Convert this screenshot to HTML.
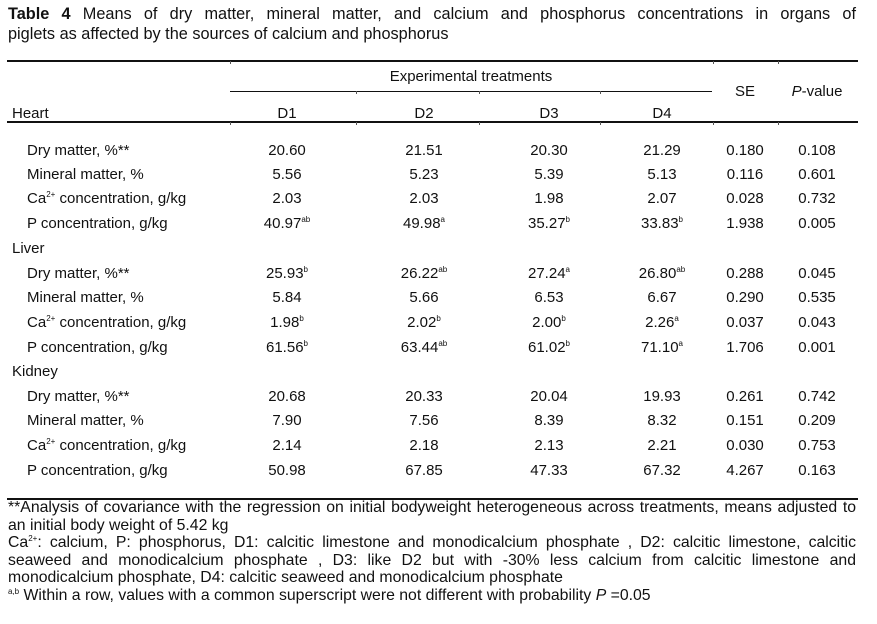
<!DOCTYPE html>
<html><head><meta charset="utf-8"><style>
body{margin:0;width:877px;height:624px;background:#fff;font-family:"Liberation Sans",Arial,sans-serif;color:#111;position:relative;overflow:hidden}
.a{position:absolute;white-space:nowrap}
.t{font-size:16.3px;left:8px;width:848px;text-align:justify;text-align-last:justify}
.r{position:absolute;height:1.5px;background:#111}
.k{position:absolute;width:1px;height:3px;background:#555}
.c{position:absolute;font-size:15px;transform:translateX(-50%);white-space:nowrap}
.l{position:absolute;font-size:15px;white-space:nowrap}
sup{font-size:8px;vertical-align:6px;line-height:0}
.fn{position:absolute;left:8px;width:848px;font-size:15.8px;white-space:nowrap;text-align:justify;text-align-last:justify}
.nj{text-align-last:left}
</style></head><body>
<div class="a t" style="top:5px"><b>Table 4</b> Means of dry matter, mineral matter, and calcium and phosphorus concentrations in organs of</div>
<div class="a t" style="top:25px;text-align-last:left">piglets as affected by the sources of calcium and phosphorus</div>
<div class="r" style="left:7px;width:851px;top:60px"></div>
<div class="c" style="left:471px;top:68px">Experimental treatments</div>
<div class="r" style="left:230px;width:482px;top:91px;height:1px"></div>
<div class="c" style="left:745px;top:83px">SE</div>
<div class="c" style="left:817px;top:83px"><i>P</i>-value</div>
<div class="r" style="left:7px;width:851px;top:121px"></div>
<div class="r" style="left:7px;width:851px;top:498px"></div>
<div class="k" style="left:230px;top:61px"></div><div class="k" style="left:713px;top:61px"></div><div class="k" style="left:778px;top:61px"></div>
<div class="k" style="left:356px;top:91px"></div><div class="k" style="left:479px;top:91px"></div><div class="k" style="left:600px;top:91px"></div>
<div class="k" style="left:230px;top:122px"></div><div class="k" style="left:356px;top:122px"></div><div class="k" style="left:479px;top:122px"></div><div class="k" style="left:600px;top:122px"></div><div class="k" style="left:713px;top:122px"></div><div class="k" style="left:778px;top:122px"></div>
<div id="tb"></div>
<div class="fn" style="top:499px">**Analysis of covariance with the regression on initial bodyweight heterogeneous across treatments, means adjusted to</div>
<div class="fn nj" style="top:516.5px">an initial body weight of 5.42 kg</div>
<div class="fn" style="top:534px">Ca<sup>2+</sup>: calcium, P: phosphorus, D1: calcitic limestone and monodicalcium phosphate , D2: calcitic limestone, calcitic</div>
<div class="fn" style="top:551.5px">seaweed and monodicalcium phosphate , D3: like D2 but with -30% less calcium from calcitic limestone and</div>
<div class="fn nj" style="top:569px">monodicalcium phosphate, D4: calcitic seaweed and monodicalcium phosphate</div>
<div class="fn nj" style="top:586.5px"><sup>a,b</sup> Within a row, values with a common superscript were not different with probability <i>P</i> =0.05</div>
<script>
const headers=["D1","D2","D3","D4"];
const rowLabels=["Dry matter, %**","Mineral matter, %","Ca<sup>2+</sup> concentration, g/kg","P concentration, g/kg"];
const heart=[["20.60","21.51","20.30","21.29","0.180","0.108"],["5.56","5.23","5.39","5.13","0.116","0.601"],["2.03","2.03","1.98","2.07","0.028","0.732"],["40.97<sup>ab</sup>","49.98<sup>a</sup>","35.27<sup>b</sup>","33.83<sup>b</sup>","1.938","0.005"]];
const liver=[["25.93<sup>b</sup>","26.22<sup>ab</sup>","27.24<sup>a</sup>","26.80<sup>ab</sup>","0.288","0.045"],["5.84","5.66","6.53","6.67","0.290","0.535"],["1.98<sup>b</sup>","2.02<sup>b</sup>","2.00<sup>b</sup>","2.26<sup>a</sup>","0.037","0.043"],["61.56<sup>b</sup>","63.44<sup>ab</sup>","61.02<sup>b</sup>","71.10<sup>a</sup>","1.706","0.001"]];
const kidney=[["20.68","20.33","20.04","19.93","0.261","0.742"],["7.90","7.56","8.39","8.32","0.151","0.209"],["2.14","2.18","2.13","2.21","0.030","0.753"],["50.98","67.85","47.33","67.32","4.267","0.163"]];
const organs=["Heart","Liver","Kidney"];
const cols=[287,424,549,662,745,817];
const tb=document.getElementById('tb');
function add(cls,x,y,html,name){const d=document.createElement('div');d.className=cls;d.style.left=x+'px';d.style.top=y+'px';d.innerHTML=html;


tb.appendChild(d);}
headers.forEach((h,i)=>add('c',cols[i],105,h,'header-'+h.toLowerCase()));
const organY=[105,240,363];
const rowY=[[142,166,190,215],[265,289,314,339],[388,412,437,462]];
[heart,liver,kidney].forEach((data,o)=>{
 add('l',12,organY[o],organs[o],'organ-'+organs[o].toLowerCase());
 data.forEach((row,r)=>{
  add('l',27,rowY[o][r],rowLabels[r],organs[o].toLowerCase()+'-row-label-'+r);
  row.forEach((v,c)=>add('c',cols[c],rowY[o][r],v,organs[o].toLowerCase()+'-cell-'+r+'-'+c));
 });
});
</script>
</body></html>
